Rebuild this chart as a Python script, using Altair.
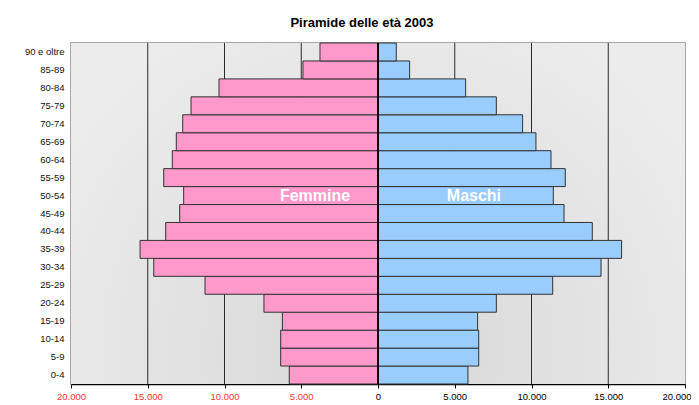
import altair as alt
import pandas as pd

ages = ["0-4", "5-9", "10-14", "15-19", "20-24", "25-29", "30-34", "35-39",
        "40-44", "45-49", "50-54", "55-59", "60-64", "65-69", "70-74",
        "75-79", "80-84", "85-89", "90 e oltre"]
femmine = [5780, 6340, 6340, 6230, 7430, 11270, 14610, 15500, 13830, 12920,
           12660, 13960, 13400, 13140, 12720, 12180, 10360, 4890, 3780]
maschi = [5860, 6560, 6560, 6490, 7710, 11380, 14530, 15870, 13960, 12120,
          11420, 12200, 11270, 10290, 9420, 7710, 5710, 2060, 1190]
tick_values = [-20000, -15000, -10000, -5000, 0, 5000, 10000, 15000, 20000]
grid_values = [-15000, -10000, -5000, 5000, 10000, 15000]
label_text = ["Femmine", "Maschi"]
label_x = [-4100, 6250]
label_age = ["50-54", "50-54"]

W, H = 614, 341
order = list(reversed(ages))

df = pd.DataFrame({
    "age": ages + ages,
    "sesso": ["F"] * len(ages) + ["M"] * len(ages),
    "value": [-v for v in femmine] + maschi,
})

xscale = alt.Scale(domain=[-20000, 20000], nice=False, zero=False)
yscale = alt.Scale(paddingInner=0, paddingOuter=0)
xaxis = alt.Axis(title=None, values=tick_values, grid=False,
                 domainColor="#000000", domainWidth=1.5,
                 tickColor="#000000", tickSize=4,
                 labelFontSize=9.5, labelPadding=3, labelFlush=False,
                 labelOverlap=False,
                 labelExpr="replace(format(abs(datum.value), ','), ',', '.')",
                 labelColor={"condition": {"test": "datum.value < 0", "value": "#ff3333"},
                             "value": "#000000"},
                 labelAlign={"condition": {"test": "datum.value >= 20000", "value": "right"},
                             "value": "center"},
                 labelOffset={"condition": {"test": "datum.value >= 20000", "value": 6},
                              "value": 0})
yaxis = alt.Axis(title=None, ticks=False, domain=False,
                 labelFontSize=9.5, labelColor="#111111", labelPadding=7)

bg = alt.Chart(pd.DataFrame({"a": [-20000], "b": [20000]})).mark_rect(
    fill={"gradient": "radial", "x1": 0.5, "y1": 0.72, "r1": 0,
          "x2": 0.5, "y2": 0.72, "r2": 0.6,
          "stops": [{"offset": 0, "color": "#d6d6d6"},
                    {"offset": 1, "color": "#ececec"}]}
).encode(
    x=alt.X("a:Q", scale=xscale, axis=xaxis),
    x2="b:Q",
    y=alt.value(0),
    y2=alt.value(H),
)

grid = alt.Chart(pd.DataFrame({"g": grid_values})).mark_rule(
    color="#2a2a2a", strokeWidth=1
).encode(x=alt.X("g:Q", scale=xscale, axis=xaxis))

bars = alt.Chart(df).mark_bar(stroke="#333333", strokeWidth=1).encode(
    y=alt.Y("age:N", sort=order, scale=yscale, axis=yaxis),
    x=alt.X("value:Q", scale=xscale, axis=xaxis),
    color=alt.Color("sesso:N", scale=alt.Scale(domain=["F", "M"],
                                               range=["#ff99cc", "#99ccff"]),
                    legend=None),
)

zero = alt.Chart(pd.DataFrame({"z": [0]})).mark_rule(
    color="#000000", strokeWidth=2
).encode(x=alt.X("z:Q", scale=xscale, axis=xaxis))

labels = alt.Chart(pd.DataFrame({"t": label_text, "x": label_x, "age": label_age})).mark_text(
    color="white", fontWeight="bold", fontSize=16, align="center", baseline="middle"
).encode(
    x=alt.X("x:Q", scale=xscale, axis=xaxis),
    y=alt.Y("age:N", sort=order, scale=yscale, axis=yaxis),
    text="t:N",
)

chart = alt.layer(bg, grid, bars, zero, labels).properties(
    width=W, height=H,
    autosize="none",
    padding={"left": 63, "top": 35, "right": 6, "bottom": 20},
    title=alt.TitleParams("Piramide delle età 2003", fontSize=13, fontWeight="bold",
                          anchor="middle", dx=-16, offset=12, color="#000000"),
).configure(font="Liberation Sans").configure_view(stroke="#8a8a8a", strokeWidth=1.5)

chart.save("out.html", embed_options={"renderer": "svg", "actions": False})
